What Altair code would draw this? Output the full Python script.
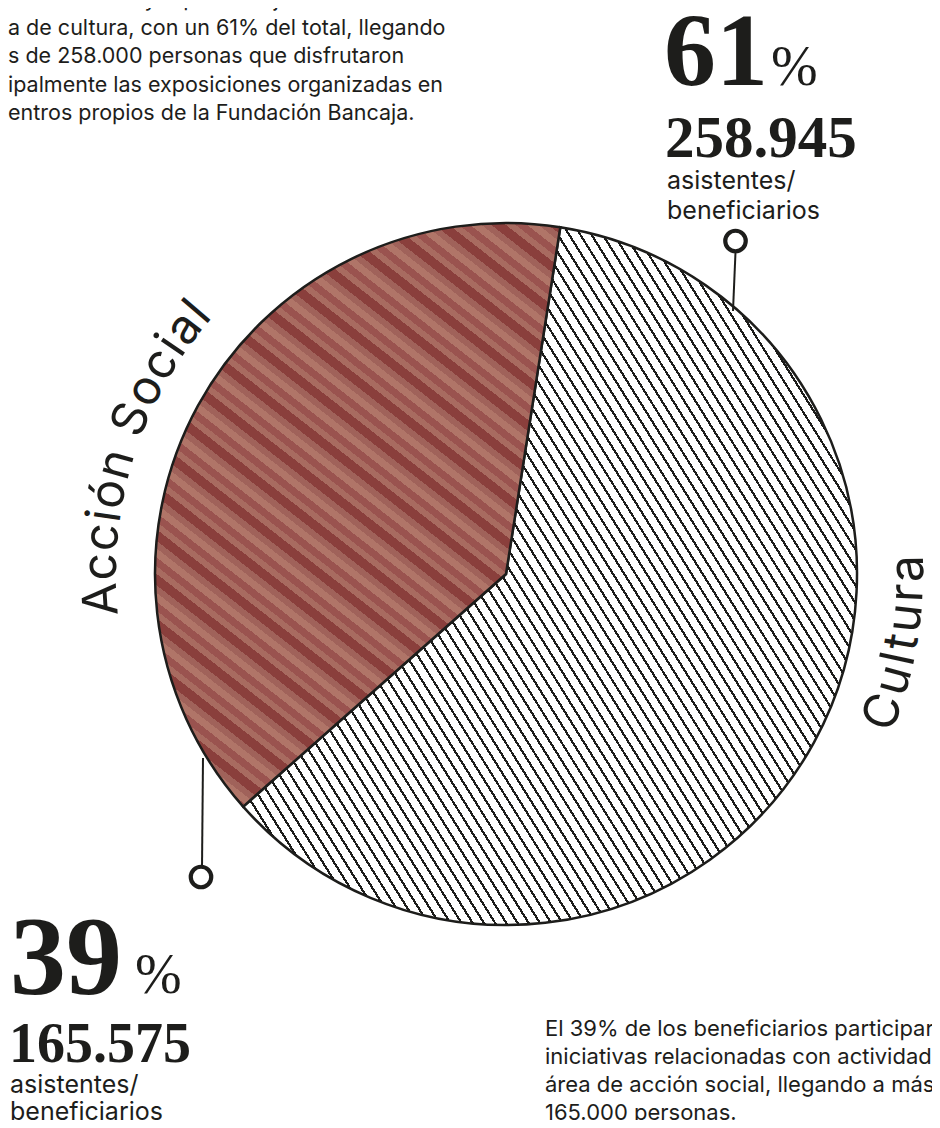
import math
import altair as alt
import pandas as pd

# ---------------- data ----------------
areas = ["Cultura", "Acción Social"]
asistentes = [258945, 165575]
porcentajes = [61, 39]
etiqueta_asist = ["asistentes/", "beneficiarios"]

parrafo_sup = [
    "ca con un mayor porcentaje de beneficiarios",
    "a de cultura, con un 61% del total, llegando",
    "s de 258.000 personas que disfrutaron",
    "ipalmente las exposiciones organizadas en",
    "entros propios de la Fundación Bancaja.",
]
parrafo_inf = [
    "El 39% de los beneficiarios participar",
    "iniciativas relacionadas con actividad",
    "área de acción social, llegando a más",
    "165.000 personas.",
]

# ---------------- layout / style ----------------
W, H = 924, 1112
CX, CY, R = 498, 566, 351
START = math.radians(8.9)
INK = "#1d1d1b"

total = sum(asistentes)
a0 = START
a1 = START + 2 * math.pi * asistentes[0] / total
a2 = START + 2 * math.pi


def fmt(n):
    return f"{n:,}".replace(",", ".")


def slice_bbox(t0, t1):
    xs, ys = [CX], [CY]
    steps = 400
    for i in range(steps + 1):
        t = t0 + (t1 - t0) * i / steps
        xs.append(CX + R * math.sin(t))
        ys.append(CY - R * math.cos(t))
    return min(xs), max(xs), min(ys), max(ys)


def stripe_gradient(bbox, angle_deg, bands):
    x0, x1, y0, y1 = bbox
    bw, bh = x1 - x0, y1 - y0
    a = math.radians(angle_deg)
    d = (math.cos(a), math.sin(a))
    n = (-d[1], d[0])
    v = (-d[1] * bw, d[0] * bh)
    vv = v[0] ** 2 + v[1] ** 2
    proj = [n[0] * px + n[1] * py for px, py in [(0, 0), (bw, 0), (0, bh), (bw, bh)]]
    tmin, tmax = min(proj), max(proj)
    span = tmax - tmin
    p1 = (v[0] * tmin / vv, v[1] * tmin / vv)
    p2 = (v[0] * tmax / vv, v[1] * tmax / vv)
    stops = []
    pos = 0.0
    i = 0
    while pos < span:
        col, wdt = bands[i % len(bands)]
        e = min(pos + wdt, span)
        stops.append({"offset": round(pos / span, 6), "color": col})
        stops.append({"offset": round(e / span, 6), "color": col})
        pos = e
        i += 1
    return {"gradient": "linear", "x1": p1[0], "y1": p1[1],
            "x2": p2[0], "y2": p2[1], "stops": stops}


grad_cultura = stripe_gradient(slice_bbox(a0, a1), 58,
                               [("#1d1d1b", 2.2), ("#ffffff", 7.3)])
grad_social = stripe_gradient(slice_bbox(a1, a2), 38,
                              [("#8a3f3c", 9), ("#a0625a", 6), ("#b07568", 7),
                               ("#9a534f", 7), ("#a86b60", 6)])

# ---------------- pie ----------------
df = pd.DataFrame({"area": areas, "asistentes": asistentes, "orden": [0, 1]})
pie = alt.Chart(df).mark_arc(radius=R, stroke=INK, strokeWidth=2.5).encode(
    theta=alt.Theta("asistentes:Q", stack=True,
                    scale=alt.Scale(range=[a0, a2])),
    order=alt.Order("orden:Q"),
    fill=alt.condition("datum.area === 'Cultura'",
                       alt.value(grad_cultura), alt.value(grad_social)),
    x=alt.value(CX), y=alt.value(CY),
)

one = pd.DataFrame({"k": [0]})

# ---------------- curved labels ----------------
WIDTHS = {"A": 0.68, "C": 0.73, "S": 0.645, "a": 0.545, "c": 0.55, "i": 0.235,
          "l": 0.235, "n": 0.573, "o": 0.568, "ó": 0.568, "r": 0.36, "t": 0.345,
          "u": 0.573, " ": 0.26}


def curved(text, r, theta0_deg, direction, fs, ls):
    rows = []
    s = 0.0
    for ch in text:
        w = WIDTHS.get(ch, 0.55) * fs
        sc = s + w / 2
        th = theta0_deg + direction * math.degrees(sc / r)
        t = math.radians(th)
        ang = th if direction > 0 else th - 180
        if ch != " ":
            rows.append({"ch": ch, "x": CX + r * math.sin(t),
                         "y": CY - r * math.cos(t), "ang": ang % 360})
        s += w + ls
    return rows


curv = pd.DataFrame(curved(areas[1], 390, 264.0, 1, 48, 2.0) +
                    curved(areas[0], 417, 112.5, -1, 48, 3.5))
curved_text = alt.Chart(curv).mark_text(
    font="Inter", fontSize=48, color=INK, align="center", baseline="alphabetic"
).encode(
    x=alt.X("x:Q", scale=None, axis=None),
    y=alt.Y("y:Q", scale=None, axis=None),
    angle=alt.Angle("ang:Q", scale=None),
    text="ch:N",
)


def txt(text, x, y, **kw):
    base = dict(font="Inter", fontSize=21.5, color=INK, align="left",
                baseline="alphabetic")
    base.update(kw)
    return alt.Chart(one).mark_text(text=text, x=x, y=y, **base).encode(
        opacity=alt.value(1))


serif = dict(font="Liberation Serif", fontWeight="bold")

layers = [
    pie,
    curved_text,
    # leader lines + circles
    alt.Chart(one).mark_rule(color=INK, strokeWidth=2).encode(
        x=alt.value(727.5), x2=alt.value(725), y=alt.value(244), y2=alt.value(303)),
    alt.Chart(one).mark_rule(color=INK, strokeWidth=2).encode(
        x=alt.value(195), x2=alt.value(194), y=alt.value(750), y2=alt.value(860)),
    alt.Chart(one).mark_point(shape="circle", filled=True, fill="white",
                              stroke=INK, strokeWidth=4.2, size=420, opacity=1).encode(
        x=alt.value(727.5), y=alt.value(233)),
    alt.Chart(one).mark_point(shape="circle", filled=True, fill="white",
                              stroke=INK, strokeWidth=4.2, size=420, opacity=1).encode(
        x=alt.value(193), y=alt.value(869)),
    # paragraphs
    txt(parrafo_sup, 0, -2, lineHeight=28.6),
    txt(parrafo_inf, 537, 1028, lineHeight=28, fontSize=22),
    # Cultura block
    txt(str(porcentajes[0]), 656, 77, fontSize=104, **serif),
    txt("%", 763, 77, font="Liberation Serif", fontSize=56),
    txt(fmt(asistentes[0]), 657, 149, fontSize=59, **serif),
    txt(etiqueta_asist, 659, 181, fontSize=25, lineHeight=30),
    # Acción Social block
    txt(str(porcentajes[1]), 2, 986, fontSize=112, **serif),
    txt("%", 127, 985, font="Liberation Serif", fontSize=56),
    txt(fmt(asistentes[1]), 1, 1054, fontSize=56, **serif),
    txt(etiqueta_asist, 2, 1085, fontSize=25, lineHeight=27),
]

chart = alt.layer(*layers).properties(
    width=W, height=H, padding=0,
    autosize=alt.AutoSizeParams(type="none"),
    background="white",
).configure_view(stroke=None)

chart.save("out.html", embed_options={"renderer": "svg", "actions": False})
